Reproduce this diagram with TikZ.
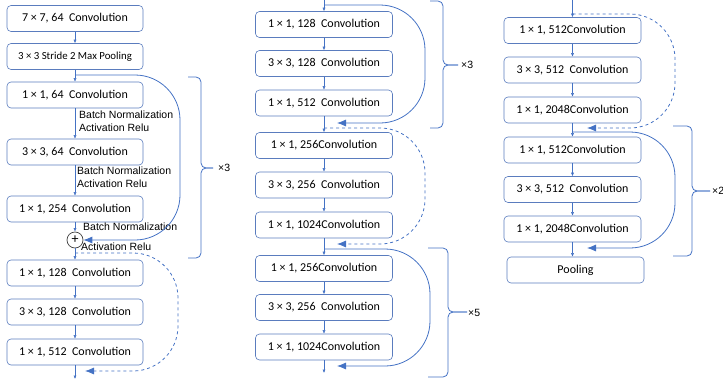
\documentclass[tikz,border=0pt]{standalone}
\usepackage{fontspec}
\setmainfont{Carlito}
\newfontfamily\labelfont{Liberation Sans}
\usetikzlibrary{arrows.meta}
\definecolor{boxline}{RGB}{90,124,190}
\definecolor{flowblue}{RGB}{68,114,196}
\tikzset{
    convbox/.style={draw=boxline, line width=0.6pt, rounded corners=4pt, minimum width=136pt, minimum height=26pt, inner sep=0pt, font=\fontsize{12}{14}\selectfont},
    flow/.style={draw=flowblue, line width=0.5pt, -{Latex[length=3.5pt,width=3pt]}},
    skipline/.style={draw=flowblue, line width=0.8pt, rounded corners=45pt, -{Latex[length=9pt,width=7pt]}},
    skipdash/.style={skipline, dashed},
    repbrace/.style={draw=flowblue, line width=0.8pt, rounded corners=5pt},
    bnlabel/.style={font=\labelfont\fontsize{10.5}{13}\selectfont, align=left, anchor=north west, inner sep=0pt},
    replabel/.style={font=\labelfont\fontsize{10.5}{12}\selectfont, anchor=west, inner sep=0pt}
}
\begin{document}
\begin{tikzpicture}[x=1pt,y=-1pt]
    \useasboundingbox (0,0) rectangle (723,383);
    % left column
    \node[convbox] (stem) at (75,18.5) {7 × 7, 64~~Convolution};
    \node[convbox, font=\fontsize{10.8}{13}\selectfont] (maxpool) at (75,56.5) {3 × 3 Stride 2 Max Pooling};
    \node[convbox] (ca1) at (75,95) {1 × 1, 64~~Convolution};
    \node[convbox] (ca2) at (75,152) {3 × 3, 64~~Convolution};
    \node[convbox] (ca3) at (75,209) {1 × 1, 254~~Convolution};
    \node[draw=black!75, line width=0.7pt, circle, minimum size=16pt, inner sep=0pt, font=\fontsize{14}{14}\selectfont] (add) at (75,240) {+};
    \node[convbox] (cb1) at (75,273) {1 × 1, 128~~Convolution};
    \node[convbox] (cb2) at (75,312) {3 × 3, 128~~Convolution};
    \node[convbox] (cb3) at (75,352) {1 × 1, 512~~Convolution};
    \node[bnlabel] (bn1) at (79,111) {Batch Normalization\\Activation Relu};
    \node[bnlabel] (bn2) at (77,167) {Batch Normalization\\Activation Relu};
    \node[replabel] (bn3a) at (83,227) {Batch Normalization};
    \node[replabel] (bn3b) at (81,247) {Activation Relu};
    % middle column
    \node[convbox, minimum width=137pt] (cc1) at (324,24.5) {1 × 1, 128~~Convolution};
    \node[convbox, minimum width=137pt] (cc2) at (324,63.5) {3 × 3, 128~~Convolution};
    \node[convbox, minimum width=137pt] (cc3) at (324,103) {1 × 1, 512~~Convolution};
    \node[convbox, minimum width=137pt] (cd1) at (324,145.5) {1 × 1, 256Convolution};
    \node[convbox, minimum width=137pt] (cd2) at (324,185) {3 × 3, 256~~Convolution};
    \node[convbox, minimum width=137pt] (cd3) at (324,225) {1 × 1, 1024Convolution};
    \node[convbox, minimum width=137pt] (ce1) at (324,268.5) {1 × 1, 256Convolution};
    \node[convbox, minimum width=137pt] (ce2) at (324,307.5) {3 × 3, 256~~Convolution};
    \node[convbox, minimum width=137pt] (ce3) at (324,347) {1 × 1, 1024Convolution};
    % right column
    \node[convbox, minimum width=137pt] (cf1) at (572.5,30.5) {1 × 1, 512Convolution};
    \node[convbox, minimum width=137pt] (cf2) at (572.5,70) {3 × 3, 512~~Convolution};
    \node[convbox, minimum width=137pt] (cf3) at (572.5,110) {1 × 1, 2048Convolution};
    \node[convbox, minimum width=137pt] (cg1) at (572.5,150) {1 × 1, 512Convolution};
    \node[convbox, minimum width=137pt] (cg2) at (572.5,189.5) {3 × 3, 512~~Convolution};
    \node[convbox, minimum width=137pt] (cg3) at (572.5,229) {1 × 1, 2048Convolution};
    \node[convbox, minimum width=137pt] (pooling) at (575.5,270) {Pooling};

    % main flow
    \foreach \a/\b in {stem/maxpool, maxpool/ca1, ca1/ca2, ca2/ca3, ca3/add, add/cb1, cb1/cb2, cb2/cb3,
        cc1/cc2, cc2/cc3, cc3/cd1, cd1/cd2, cd2/cd3, cd3/ce1, ce1/ce2, ce2/ce3,
        cf1/cf2, cf2/cf3, cf3/cg1, cg1/cg2, cg2/cg3, cg3/pooling}
        \draw[flow] (\a.south) -- (\a.south |- \b.north);
    \coordinate (top2) at (324,0);
    \coordinate (top3) at (572.5,0);
    \coordinate (end1) at (75,379);
    \coordinate (end2) at (324,373);
    \draw[flow] (top2) -- (cc1.north);
    \draw[flow] (top3) -- (cf1.north);
    \draw[flow] (cb3.south) -- (end1);
    \draw[flow] (ce3.south) -- (end2);

    % shortcut connections
    \coordinate (sk1s) at (75,75);
    \coordinate (sk2s) at (75,253);   \coordinate (sk2e) at (85,371);
    \coordinate (sk3s) at (324,5);    \coordinate (sk3e) at (337,123);
    \coordinate (sk4s) at (324,128);  \coordinate (sk4e) at (337,244);
    \coordinate (sk5s) at (324,249);  \coordinate (sk5e) at (337,366);
    \coordinate (sk6s) at (572.5,14); \coordinate (sk6e) at (587,128);
    \coordinate (sk7s) at (572.5,132);\coordinate (sk7e) at (587,248);
    \draw[skipline] (sk1s) -| (180,240) -- (add.east);
    \draw[skipdash] (sk2s) -| (178,371) -- (sk2e);
    \draw[skipline] (sk3s) -| (425,123) -- (sk3e);
    \draw[skipdash] (sk4s) -| (425,244) -- (sk4e);
    \draw[skipline] (sk5s) -| (430,366) -- (sk5e);
    \draw[skipdash] (sk6s) -| (675,128) -- (sk6e);
    \draw[skipline] (sk7s) -| (675,248) -- (sk7e);

    % repeat braces
    \draw[repbrace] (188,77) -| (201,168) -- (213,168);
    \draw[repbrace] (188,258) -| (201,168) -- (213,168);
    \node[replabel] (rep1) at (218,168) {×3};
    \draw[repbrace] (430,1) -| (443,65) -- (458,65);
    \draw[repbrace] (430,128) -| (443,65) -- (458,65);
    \node[replabel] (rep2) at (461,65) {×3};
    \draw[repbrace] (428,248) -| (448,312) -- (467,312);
    \draw[repbrace] (428,377) -| (448,312) -- (467,312);
    \node[replabel] (rep3) at (468,313) {×5};
    \draw[repbrace] (673,126) -| (692,191) -- (710,191);
    \draw[repbrace] (673,256) -| (692,191) -- (710,191);
    \node[replabel] (rep4) at (712,191) {×2};
\end{tikzpicture}
\end{document}
